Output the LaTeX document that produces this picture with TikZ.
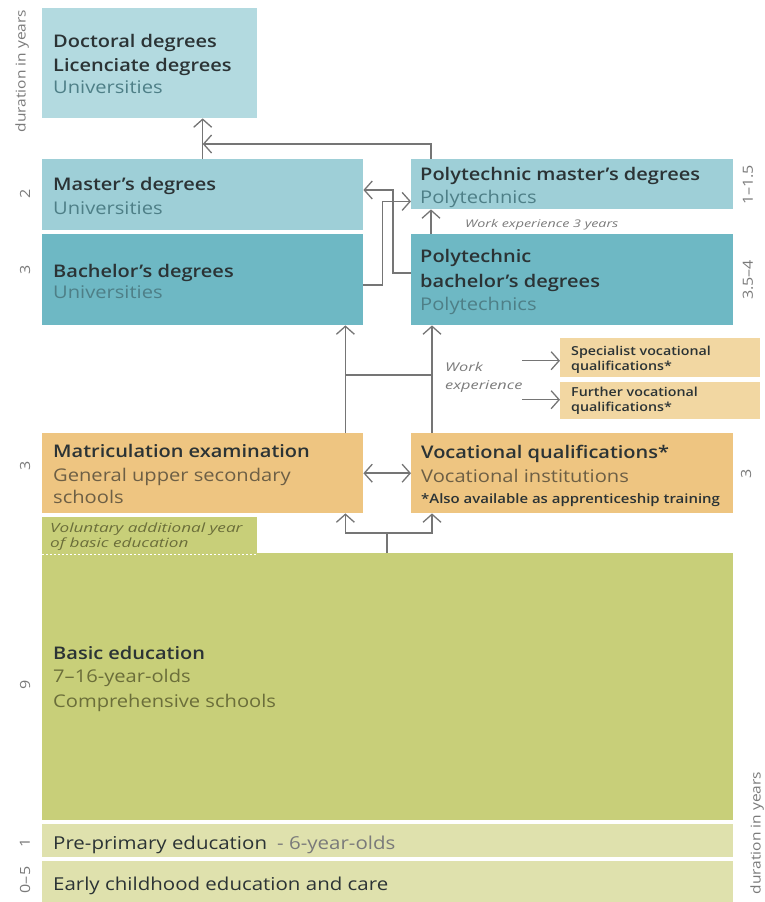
\documentclass[tikz,border=0pt]{standalone}
\usepackage{fontspec}
\setmainfont{Open Sans}[FakeStretch=1.15,BoldFont={Open Sans Semibold}]
\newfontfamily\widefont{Open Sans}[FakeStretch=1.35]
\usetikzlibrary{arrows.meta,calc}
\definecolor{cdoc}{HTML}{B3DAE0}
\definecolor{cmas}{HTML}{9ECFD7}
\definecolor{cbac}{HTML}{6EB8C4}
\definecolor{cspec}{HTML}{F2D7A2}
\definecolor{cmat}{HTML}{EEC581}
\definecolor{cbas}{HTML}{C8CF79}
\definecolor{cpre}{HTML}{DFE1AD}
\definecolor{ctitle}{HTML}{2B3335}
\definecolor{cteal}{HTML}{4E7F87}
\definecolor{cbrown}{HTML}{6D5F45}
\definecolor{colive}{HTML}{6B6E3A}
\definecolor{cline}{HTML}{757575}
\definecolor{cgrey}{HTML}{7A7A7A}
\begin{document}
\begin{tikzpicture}[x=1pt,y=-1pt,
  box/.style={draw=none,inner sep=0pt,anchor=north west},
  ttl/.style={inner sep=0pt,anchor=base west,text=ctitle,font=\fontsize{17.4}{19}\selectfont\bfseries},
  sub/.style={inner sep=0pt,anchor=base west,font=\fontsize{17.5}{19}\selectfont},
  small/.style={inner sep=0pt,anchor=base west,text=ctitle,font=\fontsize{12.4}{14}\selectfont\bfseries},
  ital/.style={inner sep=0pt,anchor=base west,text=cgrey,font=\widefont\fontsize{12.1}{14}\selectfont\itshape},
  dur/.style={inner sep=0pt,rotate=90,text=cgrey,font=\fontsize{14}{16}\selectfont},
  con/.style={draw=cline,line width=1.5pt},
  arr/.style={con,-{Straight Barb[length=8pt,width=18pt,line width=1.3pt]}},
  darr/.style={con,{Straight Barb[length=8pt,width=18pt,line width=1.3pt]}-{Straight Barb[length=8pt,width=18pt,line width=1.3pt]}}
]
\useasboundingbox (0,0) rectangle (765,902);
% boxes
\node[box,fill=cdoc,minimum width=215pt,minimum height=110pt] (doc) at (42,8) {};
\node[box,fill=cmas,minimum width=321pt,minimum height=71pt] (mas) at (42,159) {};
\node[box,fill=cbac,minimum width=321pt,minimum height=91pt] (bac) at (42,234) {};
\node[box,fill=cmas,minimum width=322pt,minimum height=50pt] (pm) at (411,159) {};
\node[box,fill=cbac,minimum width=322pt,minimum height=91pt] (pb) at (411,234) {};
\node[box,fill=cspec,minimum width=200pt,minimum height=39pt] (spec) at (560,338) {};
\node[box,fill=cspec,minimum width=200pt,minimum height=37pt] (fur) at (560,382) {};
\node[box,fill=cmat,minimum width=321pt,minimum height=80pt] (mat) at (42,433) {};
\node[box,fill=cmat,minimum width=322pt,minimum height=80pt] (voc) at (411,433) {};
\node[box,fill=cbas,minimum width=215pt,minimum height=37pt] (vol) at (42,517) {};
\node[box,fill=cbas,minimum width=691pt,minimum height=267pt] (bas) at (42,553) {};
\node[box,fill=cpre,minimum width=691pt,minimum height=33pt] (pre) at (42,824) {};
\node[box,fill=cpre,minimum width=691pt,minimum height=41pt] (ear) at (42,861) {};
\draw[white,line width=1pt,dash pattern=on 2pt off 2pt] (vol.south west) -- (vol.south east);
% texts
\node[ttl] (t1) at ($(doc.north west)+(11,39)$) {Doctoral degrees};
\node[ttl] (t2) at ($(doc.north west)+(11,63)$) {Licenciate degrees};
\node[sub,text=cteal] (t3) at ($(doc.north west)+(11,85)$) {Universities};
\node[ttl] (t4) at ($(mas.north west)+(11,31)$) {Master’s degrees};
\node[sub,text=cteal] (t5) at ($(mas.north west)+(11,55)$) {Universities};
\node[ttl] (t6) at ($(bac.north west)+(11,43)$) {Bachelor’s degrees};
\node[sub,text=cteal] (t7) at ($(bac.north west)+(11,64)$) {Universities};
\node[ttl] (t8) at ($(pm.north west)+(9,21)$) {Polytechnic master’s degrees};
\node[sub,text=cteal] (t9) at ($(pm.north west)+(9,44)$) {Polytechnics};
\node[ttl] (t10) at ($(pb.north west)+(9,28)$) {Polytechnic};
\node[ttl] (t11) at ($(pb.north west)+(9,53)$) {bachelor’s degrees};
\node[sub,text=cteal] (t12) at ($(pb.north west)+(9,76)$) {Polytechnics};
\node[ital,font=\widefont\fontsize{10.6}{12}\selectfont\itshape] (t13) at ($(pm.south west)+(54,18)$) {Work experience 3 years};
\node[small] (t14) at ($(spec.north west)+(11,17)$) {Specialist vocational};
\node[small] (t15) at ($(spec.north west)+(11,32)$) {qualifications*};
\node[small] (t16) at ($(fur.north west)+(11,14)$) {Further vocational};
\node[small] (t17) at ($(fur.north west)+(11,29)$) {qualifications*};
\node[ital] (t18) at (445,371) {Work};
\node[ital] (t19) at (445,389) {experience};
\node[ttl] (t20) at ($(mat.north west)+(11,24)$) {Matriculation examination};
\node[sub,text=cbrown] (t21) at ($(mat.north west)+(11,48)$) {General upper secondary};
\node[sub,text=cbrown] (t22) at ($(mat.north west)+(11,70)$) {schools};
\node[ttl] (t23) at ($(voc.north west)+(10,25)$) {Vocational qualifications*};
\node[sub,text=cbrown] (t24) at ($(voc.north west)+(10,49)$) {Vocational institutions};
\node[small,font=\fontsize{13}{14}\selectfont\bfseries] (t25) at ($(voc.north west)+(10,70)$) {*Also available as apprenticeship training};
\node[ital,text=colive,font=\widefont\fontsize{12.7}{14}\selectfont\itshape] (t26) at ($(vol.north west)+(8,15)$) {Voluntary additional year};
\node[ital,text=colive,font=\widefont\fontsize{12.7}{14}\selectfont\itshape] (t27) at ($(vol.north west)+(8,30)$) {of basic education};
\node[ttl] (t28) at ($(bas.north west)+(11,106)$) {Basic education};
\node[sub,text=colive] (t29) at ($(bas.north west)+(11,129)$) {7–16-year-olds};
\node[sub,text=colive] (t30) at ($(bas.north west)+(11,154)$) {Comprehensive schools};
\node[sub,text=ctitle,font=\fontsize{17.8}{19}\selectfont] (t31) at ($(pre.north west)+(11,25)$) {Pre-primary education};
\node[sub,text=cgrey,font=\fontsize{17.8}{19}\selectfont] (t32) at ($(pre.north west)+(235,25)$) {- 6-year-olds};
\node[sub,text=ctitle,font=\fontsize{17.8}{19}\selectfont] (t33) at ($(ear.north west)+(11,29)$) {Early childhood education and care};
% duration labels
\node[dur,font=\fontsize{13.5}{15}\selectfont] (dl) at (22,71) {duration in years};
\node[dur] (d1) at (25,194) {2};
\node[dur] (d2) at (25,270) {3};
\node[dur] (d3) at (25,466) {3};
\node[dur] (d4) at (25,685) {9};
\node[dur] (d5) at (25,843) {1};
\node[dur] (d6) at (25,880) {0–5};
\node[dur] (d7) at (748,185) {1–1.5};
\node[dur] (d8) at (748,280) {3.5–4};
\node[dur] (d9) at (746,474) {3};
\node[dur,font=\fontsize{13.5}{15}\selectfont] (dr) at (757,833) {duration in years};
% connectors
\coordinate (j1) at ($(mas.north)+(0,-15)$);
\draw[arr] (mas.north) -- (mas.north |- doc.south);
\draw[arr] ($(pm.north west)+(20,0)$) |- (j1);
\draw[arr] ($(bac.north east)+(0,51)$) -- ++(19,0) |- ($(pm.south west)+(0,-8)$);
\draw[arr] ($(pb.north west)+(0,39)$) -- ++(-18,0) |- ($(mas.north east)+(0,31)$);
\draw[arr] ($(pb.north west)+(20,0)$) -- ($(pm.south west)+(20,0)$);
\draw[arr] ($(mat.north east)+(-18,0)$) -- ($(bac.south east)+(-18,0)$);
\draw[arr] ($(voc.north west)+(21,0)$) -- ($(pb.south west)+(21,0)$);
\draw[con] ($(mat.north east)+(-18,-58)$) -- ($(voc.north west)+(21,-58)$);
\coordinate (w1) at ($(spec.west)+(-38,3)$);
\coordinate (w2) at ($(fur.west)+(-38,-1)$);
\draw[arr] (w1) -- ($(spec.west)+(0,3)$);
\draw[arr] (w2) -- ($(fur.west)+(0,-1)$);
\draw[darr] (mat.east) -- (voc.west);
\coordinate (st) at ($(bas.north west)+(345,0)$);
\draw[arr] (st) -- ++(0,-20) -| ($(mat.south east)+(-18,0)$);
\draw[arr] (st) -- ++(0,-20) -| ($(voc.south west)+(21,0)$);
\end{tikzpicture}
\end{document}
